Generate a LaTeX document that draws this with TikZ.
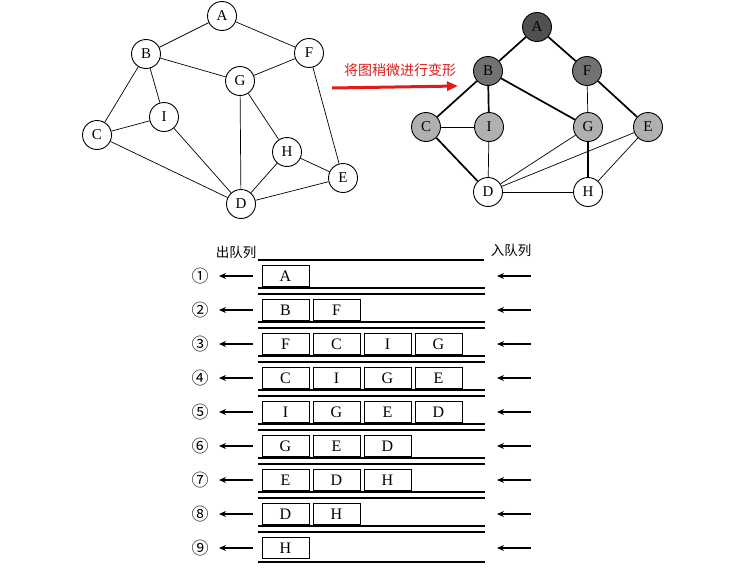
\documentclass[tikz,border=0pt]{standalone}
\usepackage{fontspec}
\setmainfont{Liberation Serif}
\newfontfamily\cjk{Noto Sans CJK SC}
\usetikzlibrary{arrows.meta, positioning}
\definecolor{darkvertex}{HTML}{505050}
\definecolor{midvertex}{HTML}{727272}
\definecolor{lightvertex}{HTML}{B0B0B0}
\definecolor{arrowred}{HTML}{E01B1B}

\begin{document}
\begin{tikzpicture}[x=1pt, y=-1pt,
    vertex/.style={circle, draw, line width=0.9pt, minimum size=29pt, inner sep=0pt, font=\fontsize{15}{15}\selectfont},
    link/.style={line width=0.7pt},
    heavy/.style={line width=1.7pt},
    qbox/.style={draw, line width=1pt, minimum width=47pt, minimum height=21pt, inner sep=0pt, font=\fontsize{16}{16}\selectfont},
    rail/.style={line width=1.4pt},
    feed/.style={-{Stealth[length=7pt, width=6pt]}, line width=1.1pt},
]
\useasboundingbox (0,0) rectangle (743,570);

% original graph
\node[vertex] (A) at (222, 16) {A};
\node[vertex] (B) at (146, 54) {B};
\node[vertex] (F) at (309, 53) {F};
\node[vertex] (G) at (240, 81) {G};
\node[vertex] (I) at (164, 117) {I};
\node[vertex] (C) at (97, 135) {C};
\node[vertex] (H) at (287, 152) {H};
\node[vertex] (E) at (343, 178) {E};
\node[vertex] (D) at (241, 204) {D};

\foreach \a/\b in {A/B, A/F, B/G, G/F, B/C, B/I, C/I, C/D, I/D, G/D, G/H, H/D, H/E, F/E, E/D}
    \draw[link] (\a) -- (\b);

% transformed graph
\node[vertex, fill=darkvertex] (A2) at (537, 27) {A};
\node[vertex, fill=midvertex] (B2) at (488, 71) {B};
\node[vertex, fill=midvertex] (F2) at (587, 71) {F};
\node[vertex, fill=lightvertex] (C2) at (426, 127) {C};
\node[vertex, fill=lightvertex] (I2) at (489, 127) {I};
\node[vertex, fill=lightvertex] (G2) at (588, 127) {G};
\node[vertex, fill=lightvertex] (E2) at (648, 127) {E};
\node[vertex] (D2) at (488, 192) {D};
\node[vertex] (H2) at (588, 192) {H};

\foreach \a/\b in {A2/B2, A2/F2, B2/C2, B2/I2, B2/G2, F2/E2, C2/D2, G2/H2}
    \draw[heavy] (\a) -- (\b);
\foreach \a/\b in {F2/G2, C2/I2, I2/D2, G2/D2, E2/D2, E2/H2, D2/H2}
    \draw[link] (\a) -- (\b);

% red arrow between the graphs
\coordinate (bendstart) at (332, 88);
\coordinate (bendend) at (458, 86);
\draw[arrowred, line width=3pt, -{Triangle[length=11pt, width=9pt]}] (bendstart) -- (bendend);
\node[text=arrowred, font=\cjk\fontsize{14}{14}\selectfont] (bendlabel) at (400, 70) {将图稍微进行变形};

% queue
\node[font=\cjk\fontsize{13.5}{14}\selectfont, anchor=south] (outlabel) at (236, 262) {出队列};
\node[font=\cjk\fontsize{13.5}{14}\selectfont, anchor=south] (inlabel) at (511, 260) {入队列};
\draw[rail] (258, 260) -- (484, 260);

\foreach \items [count=\r] in {{A}, {B,F}, {F,C,I,G}, {C,I,G,E}, {I,G,E,D}, {G,E,D}, {E,D,H}, {D,H}, {H}} {
    \pgfmathsetmacro\yc{276+34*(\r-1)}
    \foreach \v [count=\k] in \items
        \node[qbox] (q\r-\k) at ({285.5+51*(\k-1)}, \yc) {\v};
    \coordinate (outstart\r) at (253, \yc);
    \coordinate (outend\r) at (219, \yc);
    \coordinate (instart\r) at (531, \yc);
    \coordinate (inend\r) at (497, \yc);
    \draw[feed] (outstart\r) -- (outend\r);
    \draw[feed] (instart\r) -- (inend\r);
}

\foreach \sym [count=\r] in {①, ②, ③, ④, ⑤, ⑥, ⑦, ⑧, ⑨}
    \node[font=\cjk\fontsize{17}{17}\selectfont] (num\r) at (200, {276+34*(\r-1)}) {\sym};

\foreach \r in {1,...,8} {
    \draw[rail] (258, {276+34*(\r-1)+12}) -- (485, {276+34*(\r-1)+12});
    \draw[rail] (258, {276+34*(\r-1)+18}) -- (485, {276+34*(\r-1)+18});
}
\draw[rail] (258, 562) -- (485, 562);

\end{tikzpicture}
\end{document}
